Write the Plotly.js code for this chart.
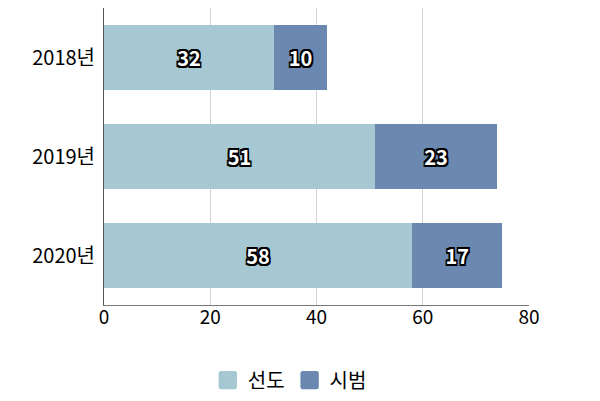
<!DOCTYPE html>
<html>
<head>
<meta charset="utf-8">
<script src="https://cdn.plot.ly/plotly-3.0.1.min.js"></script>
<style>html,body{margin:0;padding:0;background:#fff;}#chart{width:600px;height:401px;}</style>
</head>
<body>
<div id="chart"></div>
<script>
const categories = ["2018년", "2019년", "2020년"];
const seriesNames = ["선도", "시범"];
const leadValues = [32, 51, 58];
const pilotValues = [10, 23, 17];
const xTicks = [0, 20, 40, 60, 80];

const FONT = '"Noto Sans CJK KR", "Noto Sans", sans-serif';
const o = 1.6;
const outline = [[-o,-o],[o,-o],[-o,o],[o,o],[0,-o],[0,o],[-o,0],[o,0]]
  .map(p => p[0] + 'px ' + p[1] + 'px 0 #000').join(', ');

function mk(name, vals, color) {
  return {
    type: 'bar', orientation: 'h', name: name,
    y: categories, x: vals,
    text: vals.map(String),
    textposition: 'inside', insidetextanchor: 'middle',
    constraintext: 'none',
    textfont: {family: FONT, size: 20, color: '#fff', weight: 700, shadow: outline},
    marker: {color: color, line: {width: 0}},
    hoverinfo: 'skip'
  };
}

const data = [
  mk(seriesNames[0], leadValues, '#a5c8d2'),
  mk(seriesNames[1], pilotValues, '#6a88b0')
];

const layout = {
  width: 600, height: 401,
  margin: {l: 104, r: 71, t: 8, b: 96},
  barmode: 'stack', bargap: 0.34,
  paper_bgcolor: '#fff', plot_bgcolor: '#fff',
  font: {family: FONT, size: 19, color: '#000'},
  xaxis: {
    range: [0, 80], tickvals: xTicks, ticktext: xTicks.map(String),
    showgrid: true, gridcolor: '#d3d3d3', gridwidth: 1,
    zeroline: false, showline: true, linecolor: '#777', linewidth: 1,
    ticks: '', ticklabelstandoff: -5,
    tickfont: {family: FONT, size: 19, color: '#000'}, fixedrange: true,
    automargin: false
  },
  yaxis: {
    autorange: 'reversed', showgrid: false, zeroline: false,
    showline: true, linecolor: '#555', linewidth: 1,
    ticks: '', ticklabelstandoff: 4,
    tickfont: {family: FONT, size: 20, color: '#000'}, fixedrange: true,
    automargin: false
  },
  showlegend: true,
  legend: {
    orientation: 'h', xref: 'container', x: 0.483, xanchor: 'center',
    yref: 'container', y: 0.052, yanchor: 'middle', traceorder: 'normal',
    font: {family: FONT, size: 20, color: '#000'}, itemwidth: 30
  }
};

function styleLegend() {
  document.querySelectorAll('#chart .legend .legendpoints path').forEach(p => {
    if (p.dataset.scaled) return;
    p.dataset.scaled = '1';
    const t = p.getAttribute('transform') || '';
    p.setAttribute('transform', t + ' scale(1.15)');
    p.style.strokeWidth = '4px';
    p.style.strokeLinejoin = 'round';
    p.style.stroke = p.style.fill;
  });
}

Plotly.newPlot('chart', data, layout, {displayModeBar: false, staticPlot: true}).then(styleLegend);
</script>
</body>
</html>
